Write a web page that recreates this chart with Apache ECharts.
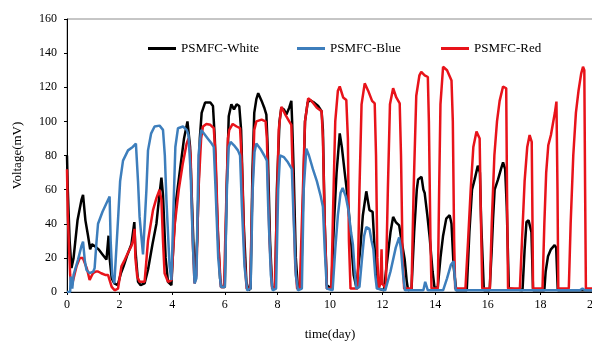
<!DOCTYPE html>
<html>
<head>
<meta charset="utf-8">
<script src="https://cdn.jsdelivr.net/npm/echarts@6/dist/echarts.min.js"></script>
<style>html,body{margin:0;padding:0;background:#fff}#c{width:592px;height:343px}</style>
</head>
<body>
<div id="c"></div>
<script>
var seriesNames = ['PSMFC-White', 'PSMFC-Blue', 'PSMFC-Red'];
var xTicks = [0, 2, 4, 6, 8, 10, 12, 14, 16, 18, 20];
var yTicks = [0, 20, 40, 60, 80, 100, 120, 140, 160];

// [time(day), voltage(mV)]
var whiteData = [[0,80],[0.03,60],[0.1,30],[0.17,14],[0.25,20],[0.4,42],[0.55,54],[0.61,57],[0.7,42],[0.8,33],[0.88,25],[0.95,28],[1.05,27],[1.2,25],[1.35,22],[1.5,19],[1.55,18],[1.58,33],[1.62,20],[1.7,8],[1.8,5],[1.93,4],[2.05,11],[2.15,15],[2.3,22],[2.45,28],[2.52,28],[2.56,41],[2.6,25],[2.7,6],[2.8,4],[2.95,5],[3.08,13],[3.25,28],[3.4,40],[3.5,55],[3.59,67],[3.65,57],[3.75,20],[3.84,6],[3.97,4],[4.05,30],[4.16,55],[4.3,72],[4.45,90],[4.58,100],[4.68,85],[4.78,40],[4.86,6],[4.95,30],[5.05,90],[5.12,105],[5.25,111],[5.45,111],[5.55,109],[5.62,90],[5.72,40],[5.82,8],[5.87,3],[6.0,3],[6.07,60],[6.15,103],[6.25,110],[6.35,107],[6.45,110],[6.55,109],[6.62,95],[6.72,40],[6.82,6],[6.9,1],[6.98,2],[7.05,70],[7.12,105],[7.2,113],[7.27,116.5],[7.4,112],[7.5,108],[7.58,104],[7.63,85],[7.72,30],[7.8,3],[7.92,2],[7.98,60],[8.08,100],[8.15,108],[8.25,107],[8.34,104],[8.45,108],[8.53,112],[8.56,100],[8.62,70],[8.7,20],[8.78,2],[8.9,2],[8.97,50],[9.05,100],[9.15,111],[9.23,112.5],[9.4,111],[9.55,109],[9.68,106],[9.73,95],[9.8,40],[9.88,4],[10.05,2],[10.15,40],[10.25,70],[10.37,93],[10.45,85],[10.56,70],[10.62,62],[10.7,50],[10.8,30],[10.9,10],[11.0,3],[11.05,3],[11.15,25],[11.25,45],[11.38,59],[11.5,48],[11.62,47],[11.68,30],[11.76,9],[11.85,2],[12.05,1],[12.15,15],[12.3,35],[12.4,44],[12.5,41],[12.63,39],[12.72,30],[12.84,19],[12.92,6],[12.97,1],[13.1,2],[13.2,35],[13.3,60],[13.35,66],[13.48,67.5],[13.55,60],[13.6,58],[13.7,45],[13.79,32],[13.9,12],[13.98,2],[14.1,3],[14.2,20],[14.3,33],[14.42,43],[14.55,45],[14.62,40],[14.7,15],[14.8,1],[15.2,1],[15.3,35],[15.4,60],[15.5,66],[15.62,74],[15.7,70],[15.75,40],[15.85,1],[16.07,1],[16.15,25],[16.2,43],[16.26,60],[16.39,66],[16.5,72],[16.58,76],[16.66,72],[16.72,50],[16.8,2],[17.32,1],[17.4,25],[17.47,41],[17.55,42],[17.66,35],[17.72,1],[18.15,1],[18.2,12],[18.29,21],[18.4,25],[18.54,27.5],[18.6,26],[18.66,1],[20,1]];

var blueData = [[0,0],[0.12,0],[0.14,9],[0.2,2],[0.25,10],[0.42,19],[0.55,27],[0.61,29.5],[0.68,18],[0.74,13],[0.86,11],[1.0,12],[1.05,14],[1.12,29],[1.18,40],[1.35,47],[1.5,52],[1.62,56],[1.66,30],[1.72,10],[1.8,5],[1.86,6],[1.95,45],[2.02,65],[2.13,77],[2.32,83],[2.5,85],[2.62,87],[2.7,65],[2.76,44],[2.89,22],[2.95,21],[3.02,60],[3.08,83],[3.2,93],[3.33,97],[3.52,97.5],[3.65,95],[3.72,80],[3.78,54],[3.9,15],[3.97,7],[4.05,50],[4.12,85],[4.22,96],[4.41,97],[4.55,95],[4.62,92],[4.7,70],[4.78,30],[4.85,5],[4.92,8],[5.0,80],[5.1,95],[5.2,93],[5.35,90],[5.5,87],[5.58,85],[5.65,60],[5.75,20],[5.85,3],[6.0,3],[6.08,60],[6.15,85],[6.22,88],[6.35,86],[6.5,83],[6.58,80],[6.65,50],[6.75,15],[6.85,1],[6.98,2],[7.06,60],[7.13,82],[7.2,87],[7.35,84],[7.5,80],[7.6,77],[7.65,50],[7.75,10],[7.82,1],[7.95,2],[8.03,60],[8.1,80],[8.25,79],[8.4,76],[8.55,72],[8.6,50],[8.7,10],[8.78,1],[8.93,2],[9.0,60],[9.1,84],[9.2,80],[9.35,72],[9.5,65],[9.65,56],[9.73,50],[9.8,25],[9.88,2],[10.1,1],[10.2,25],[10.3,45],[10.4,58],[10.48,61],[10.6,56],[10.7,48],[10.8,35],[10.87,28],[10.95,10],[11.0,2],[11.12,3],[11.22,20],[11.3,33],[11.38,38],[11.5,37],[11.58,30],[11.65,25],[11.72,10],[11.78,2],[12.1,1],[12.3,12],[12.5,26],[12.63,32],[12.7,25],[12.78,10],[12.85,1],[13.55,1],[13.62,6],[13.66,7],[13.72,1],[14.3,1],[14.45,8],[14.6,16],[14.7,18],[14.78,1],[19.5,1],[19.6,2],[19.7,1],[20,1]];

var redData = [[0,72],[0.03,45],[0.08,25],[0.12,10],[0.17,3],[0.25,8],[0.36,15],[0.49,20],[0.6,20],[0.67,19],[0.75,14],[0.8,11],[0.86,7],[0.92,9],[0.99,11],[1.1,12],[1.18,12],[1.3,11],[1.45,10],[1.56,10],[1.62,7],[1.7,3],[1.81,1],[1.94,2],[2.07,15],[2.2,19],[2.32,23],[2.45,27],[2.51,30],[2.57,37],[2.6,20],[2.67,9],[2.76,6],[2.95,6],[3.0,15],[3.08,30],[3.27,48],[3.4,55],[3.52,60],[3.59,54],[3.65,30],[3.71,11],[3.84,6],[3.97,7],[4.1,40],[4.25,60],[4.4,75],[4.55,87],[4.62,90],[4.7,80],[4.78,30],[4.85,5],[4.92,10],[5.0,60],[5.1,90],[5.17,97],[5.3,98.5],[5.45,98],[5.58,96],[5.65,80],[5.75,30],[5.85,3],[5.97,3],[6.05,50],[6.12,90],[6.17,95],[6.3,98.5],[6.45,97],[6.58,96],[6.65,75],[6.75,20],[6.83,2],[6.96,2],[7.05,60],[7.12,95],[7.2,100],[7.4,101],[7.55,100],[7.6,90],[7.7,30],[7.8,2],[7.9,2],[7.98,50],[8.05,95],[8.15,108.5],[8.3,104],[8.45,100],[8.53,98],[8.6,60],[8.68,15],[8.75,2],[8.85,2],[8.95,50],[9.05,100],[9.17,113.5],[9.3,112],[9.5,108],[9.68,106],[9.73,90],[9.8,40],[9.88,2],[10.05,2],[10.12,50],[10.2,100],[10.3,118],[10.37,120.5],[10.5,114],[10.62,112.5],[10.68,90],[10.72,30],[10.78,2],[11.05,2],[11.12,60],[11.2,110],[11.32,122.3],[11.45,118],[11.6,112],[11.7,110.5],[11.75,80],[11.8,20],[11.85,2],[11.92,5],[11.96,25],[11.99,5],[12.12,2],[12.2,60],[12.28,110],[12.4,119.4],[12.52,114],[12.65,110.6],[12.7,80],[12.76,20],[12.82,2],[13.1,2],[13.18,60],[13.28,115],[13.4,127],[13.47,129],[13.6,127],[13.72,126],[13.76,100],[13.82,30],[13.86,2],[14.1,2],[14.15,60],[14.2,110],[14.3,132],[14.45,130],[14.62,124],[14.67,100],[14.72,30],[14.76,2],[15.15,2],[15.25,30],[15.35,60],[15.45,85],[15.57,94],[15.69,90],[15.73,50],[15.79,2],[16.08,2],[16.15,40],[16.25,80],[16.35,100],[16.45,112],[16.58,120.4],[16.7,119.4],[16.73,60],[16.77,2],[17.22,2],[17.3,30],[17.4,65],[17.5,85],[17.59,92],[17.67,88],[17.7,40],[17.72,2],[18.08,2],[18.15,40],[18.22,70],[18.3,86],[18.4,92],[18.48,99],[18.55,105],[18.61,111.6],[18.65,60],[18.68,2],[19.08,2],[19.15,40],[19.25,80],[19.35,105],[19.45,118],[19.55,128],[19.62,132],[19.67,130],[19.7,60],[19.73,2],[20,2]];

var colors = {white: '#000000', blue: '#3d7ebc', red: '#e8131a'};
var serif = '"Liberation Serif", "DejaVu Serif", serif';

var chart = echarts.init(document.getElementById('c'), null, {renderer: 'canvas'});

function legendAt(left, name) {
  return {
    left: left, top: 37, data: [name], itemWidth: 28, itemHeight: 3,
    icon: 'rect',
    textStyle: {fontFamily: serif, fontSize: 13, color: '#000'},
    selectedMode: false
  };
}

function lineSeries(name, data, color, z) {
  return {
    name: name, type: 'line', data: data, symbol: 'none', showSymbol: false, smooth: false,
    lineStyle: {color: color, width: 2.5}, itemStyle: {color: color},
    z: z, animation: false
  };
}

chart.setOption({
  animation: false,
  backgroundColor: '#fff',
  legend: [legendAt(143, seriesNames[0]), legendAt(292, seriesNames[1]), legendAt(436, seriesNames[2])],
  grid: {left: 67, top: 19, width: 526, height: 273, show: true, borderColor: '#8c8c8c', borderWidth: 1, outerBoundsMode: 'none', containLabel: false},
  xAxis: {
    type: 'value', min: xTicks[0], max: xTicks[xTicks.length - 1], interval: 2,
    name: 'time(day)', nameLocation: 'middle', nameGap: 36,
    nameTextStyle: {fontFamily: serif, fontSize: 13, color: '#000'},
    axisLine: {lineStyle: {color: '#000', width: 1}},
    axisTick: {show: true, length: 3, lineStyle: {color: '#000'}},
    axisLabel: {fontFamily: serif, fontSize: 12, color: '#000', margin: 7},
    splitLine: {show: false}
  },
  yAxis: {
    type: 'value', min: yTicks[0], max: yTicks[yTicks.length - 1], interval: 20,
    name: 'Voltage(mV)', nameLocation: 'middle', nameGap: 43, nameRotate: 90,
    nameTextStyle: {fontFamily: serif, fontSize: 13, color: '#000'},
    axisLine: {show: true, lineStyle: {color: '#000', width: 1}},
    axisTick: {show: true, length: 3, lineStyle: {color: '#000'}},
    axisLabel: {fontFamily: serif, fontSize: 12, color: '#000', margin: 10},
    splitLine: {show: false}
  },
  series: [
    lineSeries(seriesNames[0], whiteData, colors.white, 2),
    lineSeries(seriesNames[2], redData, colors.red, 3),
    lineSeries(seriesNames[1], blueData, colors.blue, 4)
  ]
});
</script>
</body>
</html>
